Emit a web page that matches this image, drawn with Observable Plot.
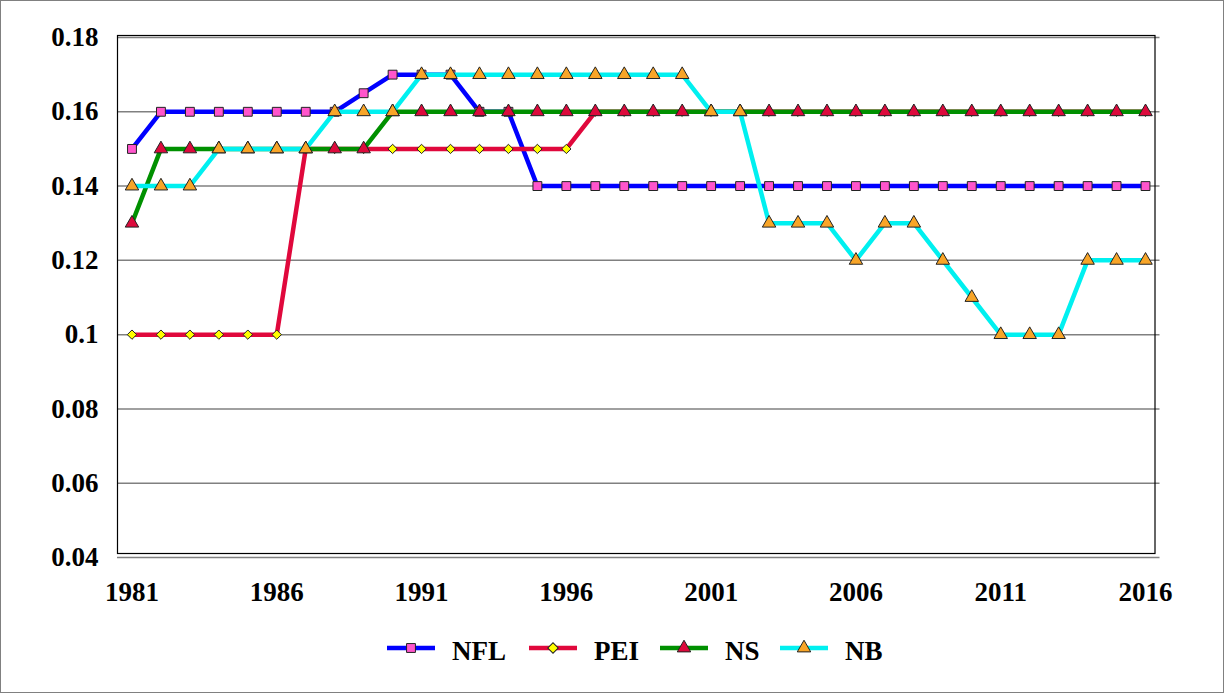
<!DOCTYPE html>
<html>
<head>
<meta charset="utf-8">
<script src="https://cdn.jsdelivr.net/npm/d3@7"></script>
<script src="https://cdn.jsdelivr.net/npm/@observablehq/plot@0.6"></script>
<style>
  html, body { margin: 0; padding: 0; background: #fff; }
  body { position: relative; width: 1225px; height: 694px; overflow: hidden; font-family: "Liberation Serif", "Times New Roman", serif; }
  #border { position: absolute; left: 0; top: 0; width: 1224px; height: 693px; box-sizing: border-box; border: 1px solid #808080; pointer-events: none; }
  #chart svg { display: block; }
  #legend { position: relative; height: 69px; }
  .item { position: absolute; top: 0; height: 46px; display: flex; align-items: center; }
  .item span { font-weight: bold; font-size: 27px; margin-left: 17px; line-height: 1; position: relative; top: 3px; }
</style>
</head>
<body>
<div id="chart"></div>
<div id="legend"></div>
<div id="border"></div>
<script>
const years = [1981,1982,1983,1984,1985,1986,1987,1988,1989,1990,1991,1992,1993,1994,1995,1996,1997,1998,
  1999,2000,2001,2002,2003,2004,2005,2006,2007,2008,2009,2010,2011,2012,2013,2014,2015,2016];
const NFL = [0.15,0.16,0.16,0.16,0.16,0.16,0.16,0.16,0.165,0.17,0.17,0.17,0.16,0.16,0.14,0.14,0.14,0.14,
  0.14,0.14,0.14,0.14,0.14,0.14,0.14,0.14,0.14,0.14,0.14,0.14,0.14,0.14,0.14,0.14,0.14,0.14];
const PEI = [0.10,0.10,0.10,0.10,0.10,0.10,0.15,0.15,0.15,0.15,0.15,0.15,0.15,0.15,0.15,0.15,0.16,0.16,
  0.16,0.16,0.16,0.16,0.16,0.16,0.16,0.16,0.16,0.16,0.16,0.16,0.16,0.16,0.16,0.16,0.16,0.16];
const NS = [0.13,0.15,0.15,0.15,0.15,0.15,0.15,0.15,0.15,0.16,0.16,0.16,0.16,0.16,0.16,0.16,0.16,0.16,
  0.16,0.16,0.16,0.16,0.16,0.16,0.16,0.16,0.16,0.16,0.16,0.16,0.16,0.16,0.16,0.16,0.16,0.16];
const NB = [0.14,0.14,0.14,0.15,0.15,0.15,0.15,0.16,0.16,0.16,0.17,0.17,0.17,0.17,0.17,0.17,0.17,0.17,
  0.17,0.17,0.16,0.16,0.13,0.13,0.13,0.12,0.13,0.13,0.12,0.11,0.10,0.10,0.10,0.12,0.12,0.12];
const seriesNames = ["NFL", "PEI", "NS", "NB"];
const xTicks = [1981, 1986, 1991, 1996, 2001, 2006, 2011, 2016];
const yTicks = [0.04, 0.06, 0.08, 0.10, 0.12, 0.14, 0.16, 0.18];

const styles = {
  NFL: {line: "#0000ff", symbol: "square", r: 5, fill: "#ff55cc"},
  PEI: {line: "#e0083c", symbol: "diamond2", r: 4.2, fill: "#ffff00"},
  NS:  {line: "#009000", symbol: "triangle", r: 5, fill: "#dc0a3c"},
  NB:  {line: "#00f0f0", symbol: "triangle", r: 5, fill: "#f8a528"}
};
const values = {NFL, PEI, NS, NB};

const marks = [
  Plot.ruleY(yTicks, {stroke: "#808080", strokeWidth: 1.5}),
  Plot.frame({stroke: "black", strokeWidth: 1.2, insetTop: -2, insetBottom: 4, insetRight: 5}),
  Plot.axisX({ticks: xTicks, tickSize: 0, tickPadding: 24, tickFormat: d => String(d), fontWeight: "bold", label: null}),
  Plot.axisY({ticks: yTicks, tickSize: 0, tickPadding: 19, tickFormat: d => String(+d.toFixed(2)), fontWeight: "bold", label: null})
];
for (const name of seriesNames) {
  const data = years.map((y, i) => ({year: y, v: values[name][i]}));
  const s = styles[name];
  marks.push(Plot.line(data, {x: "year", y: "v", stroke: s.line, strokeWidth: 4.5}));
  marks.push(Plot.dot(data, {x: "year", y: "v", symbol: s.symbol, r: s.r, fill: s.fill, stroke: "#222", strokeWidth: 1}));
}

const chart = Plot.plot({
  width: 1225,
  height: 625,
  marginLeft: 117,
  marginRight: 65.5,
  marginTop: 37,
  marginBottom: 68,
  x: {domain: [1980.5, 2016.5], label: null},
  y: {domain: [0.04, 0.18], label: null},
  style: {fontFamily: "'Liberation Serif', 'Times New Roman', serif", fontSize: "27px", fontWeight: "bold", color: "black", background: "transparent", overflow: "visible"},
  marks
});
document.getElementById("chart").appendChild(chart);

// Legend
const legendLefts = {NFL: 387, PEI: 529, NS: 660, NB: 780};
const legend = document.getElementById("legend");
for (const name of seriesNames) {
  const s = styles[name];
  const item = document.createElement("div");
  item.className = "item";
  item.style.left = legendLefts[name] + "px";
  const sym = d3.symbol(name === "NS" || name === "NB" ? d3.symbolTriangle : d3.symbolSquare, Math.PI * s.r * s.r)();
  const rot = name === "PEI" ? "rotate(45)" : "";
  item.innerHTML =
    `<svg width="48" height="16" style="overflow:visible">
      <line x1="0" x2="48" y1="8" y2="8" stroke="${s.line}" stroke-width="4.5"/>
      <path d="${sym}" transform="translate(24,8) ${rot}" fill="${s.fill}" stroke="#222" stroke-width="1"/>
    </svg><span>${name}</span>`;
  legend.appendChild(item);
}
</script>
</body>
</html>
